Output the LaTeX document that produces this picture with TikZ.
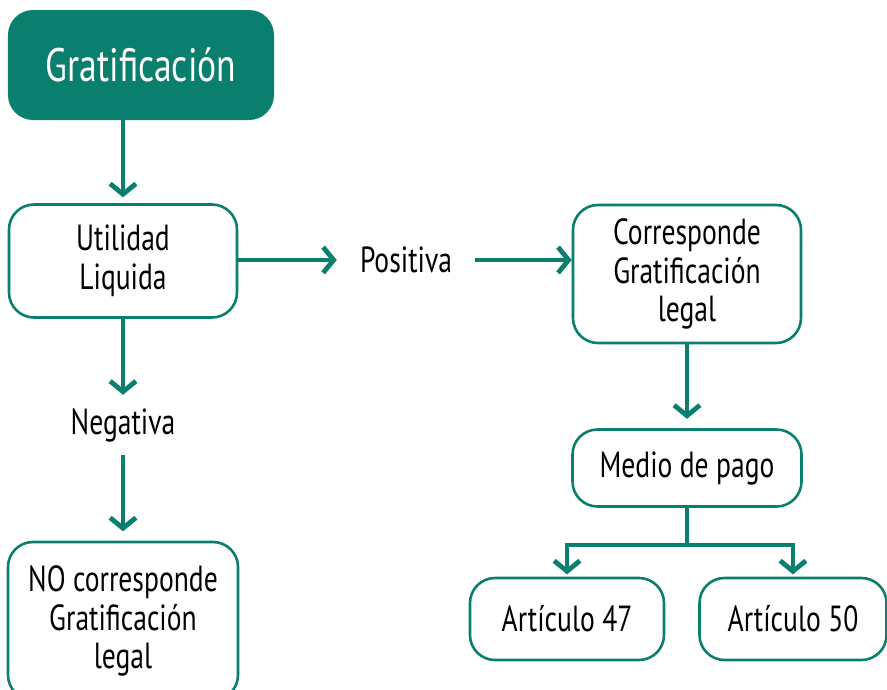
\documentclass[tikz,border=0pt]{standalone}
\usepackage{fontspec}
\setmainfont[FakeStretch=0.76]{PT Sans}
\usepackage{tikz}
\usetikzlibrary{arrows.meta}
\definecolor{verde}{HTML}{0A7F6E}

\begin{document}
\begin{tikzpicture}[x=0.03cm, y=-0.03cm, >={Straight Barb[length=9pt, width=22pt]},
		caja/.style={draw=verde, line width=2.2pt, rounded corners=0.75cm, fill=white, align=center, inner sep=0pt, font=\fontsize{31pt}{33pt}\selectfont},
		titulo/.style={fill=verde, rounded corners=0.75cm, text=white, inner sep=0pt, font=\fontsize{40pt}{42pt}\selectfont},
		etiqueta/.style={inner sep=0pt, font=\fontsize{31pt}{33pt}\selectfont},
		flecha/.style={draw=verde, line width=4.1pt, ->}]
		\useasboundingbox (0,0) rectangle (887,689);
		%left column
			\node [titulo, minimum width=7.98cm, minimum height=3.3cm] (grat) at (141,65) {Gratificación};
			\node [caja, minimum width=6.84cm, minimum height=3.39cm] (util) at (123,261) {Utilidad\\Liquida};
			\node [etiqueta, minimum height=1.8cm] (neg) at (123,425) {Negativa};
			\node [caja, minimum width=6.9cm, minimum height=4.74cm] (nocorr) at (123,621) {NO corresponde\\Gratificación\\legal};
		%right column
			\node [etiqueta, minimum width=4.14cm] (pos) at (406,260) {Positiva};
			\node [caja, minimum width=6.84cm, minimum height=4.14cm] (corr) at (687,274) {Corresponde\\Gratificación\\legal};
			\node [caja, minimum width=6.87cm, minimum height=2.31cm] (medio) at (687,468) {Medio de pago};
			\node [caja, minimum width=5.82cm, minimum height=2.46cm] (art47) at (567,619) {Artículo 47};
			\node [caja, minimum width=5.61cm, minimum height=2.46cm] (art50) at (793,619) {Artículo 50};
			\coordinate (rama) at (687,545);
		%arrows
			\draw [flecha, shorten >=5pt] (util |- grat.south) -- (util);
			\draw [flecha] (util.east |- pos) -- (pos.west);
			\draw [flecha] (pos.east) -- (corr.west |- pos);
			\draw [flecha, shorten >=8pt] (corr) -- (medio);
			\draw [flecha] (util) -- (neg.north);
			\draw [flecha, shorten >=8pt] (neg.south) -- (nocorr);
			\draw [flecha, shorten >=2pt] (medio.south) -- (rama) -| (art47.north);
			\draw [flecha, shorten >=2pt] (rama) -| (art50.north);
\end{tikzpicture}
\end{document}
